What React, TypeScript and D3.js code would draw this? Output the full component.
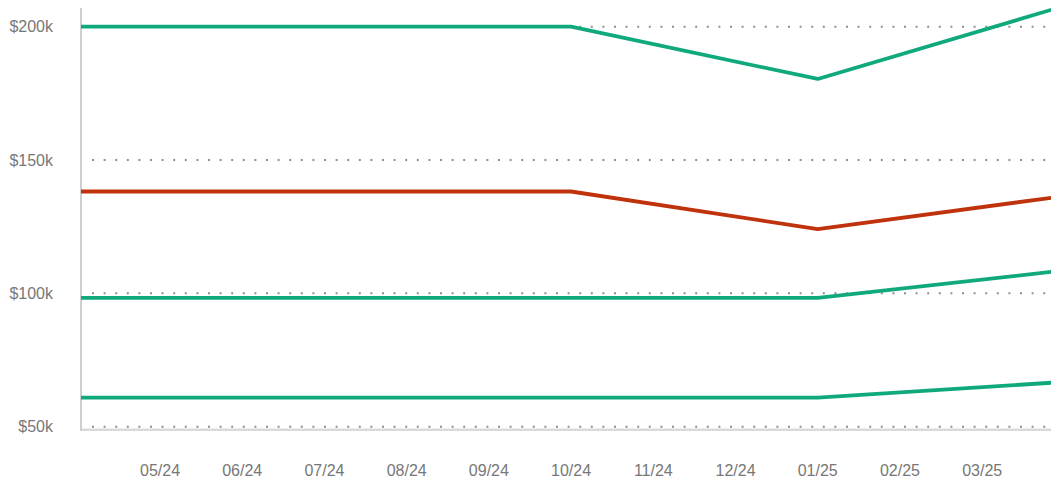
import React, { useEffect, useRef } from "react";
import * as d3 from "d3";

// month axis (first and last fall just outside the visible plot)
const months = [
  "04/24", "05/24", "06/24", "07/24", "08/24", "09/24", "10/24",
  "11/24", "12/24", "01/25", "02/25", "03/25", "04/25",
];
const tickMonths = months.slice(1, 12);

// months where the lines change direction
const keyMonths = ["04/24", "10/24", "01/25", "04/25"];

// values in $k
const upperGreen = [200, 200, 180.4, 207.8];
const redLine = [138.2, 138.2, 124.1, 136.5];
const midGreen = [98.3, 98.3, 98.3, 108.6];
const lowerGreen = [60.9, 60.9, 60.9, 66.8];

const yTicks = [50, 100, 150, 200];

const GREEN = "#10a97e";
const RED = "#bf320b";

const App = () => {
  const svgRef = useRef<SVGSVGElement>(null);

  useEffect(() => {
    const width = 1051;
    const height = 479;
    const svg = d3.select(svgRef.current);
    svg.selectAll("*").remove();
    svg.attr("width", width).attr("height", height);

    const left = 81;
    const right = 1051;

    const x = d3.scalePoint<string>().domain(months).range([77.8, 1064.4]);
    const y = d3.scaleLinear().domain([50, 200]).range([426.7, 26.7]);

    svg.append("defs")
      .append("clipPath")
      .attr("id", "plot-clip")
      .append("rect")
      .attr("x", left)
      .attr("y", 0)
      .attr("width", right - left)
      .attr("height", 432);

    // dotted gridlines
    svg.append("g")
      .selectAll("line")
      .data(yTicks)
      .enter()
      .append("line")
      .attr("x1", left + 11)
      .attr("x2", right)
      .attr("y1", d => y(d))
      .attr("y2", d => y(d))
      .attr("stroke", "#8f8f8f")
      .attr("stroke-width", 2)
      .attr("stroke-dasharray", "2 9.6");

    // y labels
    svg.append("g")
      .selectAll("text")
      .data(yTicks)
      .enter()
      .append("text")
      .attr("x", 53)
      .attr("y", d => y(d))
      .attr("dy", "0.36em")
      .attr("text-anchor", "end")
      .style("font-family", "'Liberation Sans', Arial, sans-serif")
      .style("font-size", "16px")
      .style("fill", "#777")
      .text(d => `$${d}k`);

    // x labels
    svg.append("g")
      .selectAll("text")
      .data(tickMonths)
      .enter()
      .append("text")
      .attr("x", d => x(d) as number)
      .attr("y", 476)
      .attr("text-anchor", "middle")
      .style("font-family", "'Liberation Sans', Arial, sans-serif")
      .style("font-size", "16px")
      .style("fill", "#777")
      .text(d => d);

    // axis lines
    svg.append("line")
      .attr("x1", left)
      .attr("x2", right)
      .attr("y1", 429.8)
      .attr("y2", 429.8)
      .attr("stroke", "#d9d9d9")
      .attr("stroke-width", 2.5);

    svg.append("line")
      .attr("x1", left)
      .attr("x2", left)
      .attr("y1", 8)
      .attr("y2", 431)
      .attr("stroke", "#cfcfcf")
      .attr("stroke-width", 2);

    const line = d3.line<number>()
      .x((d, i) => x(keyMonths[i]) as number)
      .y(d => y(d));

    const series = [
      { values: lowerGreen, color: GREEN },
      { values: midGreen, color: GREEN },
      { values: redLine, color: RED },
      { values: upperGreen, color: GREEN },
    ];

    svg.append("g")
      .attr("clip-path", "url(#plot-clip)")
      .selectAll("path")
      .data(series)
      .enter()
      .append("path")
      .attr("d", d => line(d.values))
      .attr("fill", "none")
      .attr("stroke", d => d.color)
      .attr("stroke-width", 3.8)
      .attr("stroke-linejoin", "round");
  }, []);

  return (
    <svg
      ref={svgRef}
      style={{ position: "absolute", left: 0, top: 0, display: "block" }}
    ></svg>
  );
};

export default App;
